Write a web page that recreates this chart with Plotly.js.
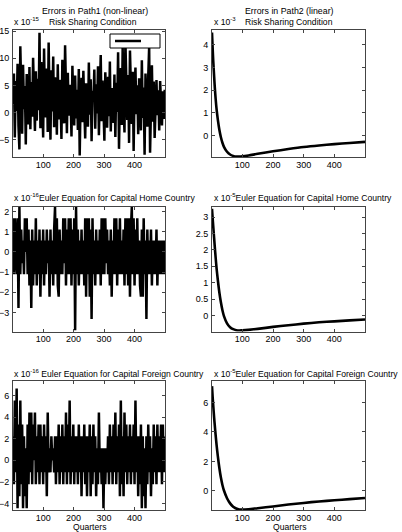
<!DOCTYPE html>
<html>
<head>
<meta charset="utf-8">
<script src="https://cdn.plot.ly/plotly-3.0.1.min.js"></script>
<style>
  html, body { margin: 0; padding: 0; background: #fff; }
  #chart { width: 402px; height: 532px; }
</style>
</head>
<body>
<div id="chart"></div>
<script>
// quarters for the noisy (non-linear) errors, sampled every 3rd quarter
var quarters = [];
for (var q = 1; q <= 499; q += 3) quarters.push(q);

// Path1 risk sharing errors, x 10^-15
var riskNonlin = [
  1.5, 7.2, -4.6, 5.8, 0.3, 9.0, -2.5, -6.8, 12.2, 2.1,
  -3.9, 8.8, 0.6, 4.9, -5.9, 7.1, 1.2, -2.2, 8.4, -3.1,
  5.6, -0.8, 10.1, 2.8, -3.4, 7.6, -1.5, 6.2, 0.4, 14.7,
  -2.9, 9.3, 3.7, -4.6, 11.8, 1.0, -0.9, 8.1, -3.6, 12.9,
  2.4, -5.0, 7.8, 0.2, 10.3, -2.7, 6.5, 3.2, -4.1, 8.9,
  -1.3, 6.0, 2.9, -4.9, 9.7, 0.8, -2.0, 12.4, 1.6, -3.8,
  7.3, -0.6, 5.1, 3.0, -4.4, 8.6, 1.9, -2.4, 6.8, -1.1,
  4.2, -3.2, 8.0, -7.9, 2.6, 6.4, -1.8, 7.7, 0.9, -4.8,
  5.4, 1.3, -2.6, 9.2, -0.4, 6.1, -5.3, 4.0, 2.2, 7.9,
  -3.0, 5.2, -0.2, 8.5, -4.2, 3.6, 10.6, -1.6, 5.9, 0.7,
  -5.2, 7.4, 2.0, -2.8, 6.6, -0.7, 9.4, -3.5, 4.5, 1.4,
  -1.9, 7.0, -4.5, 5.5, 0.1, 11.1, -6.7, 3.3, 8.2, -2.3,
  12.0, 1.1, -3.7, 13.1, 4.8, -1.4, 6.9, -5.6, 11.4, 0.5,
  -2.1, 7.5, -7.1, 3.9, 8.3, -0.3, 5.0, -4.0, 6.3, 2.5,
  -3.3, 9.6, -1.0, 4.6, -7.8, 7.2, 0.0, -2.6, 6.7, 12.1,
  -7.4, 3.1, 8.7, -1.7, 5.7, -4.7, 2.7, 6.0, -0.5, 4.1,
  -3.3, 5.8, 1.8, -2.4, 3.9, -1.2, 4.2
];

// Path1 Euler equation home errors, x 10^-16
var homeNonlin = [
  1.67, -1.11, 1.67, 0.56, -1.11, 1.67, -2.78, 2.22, -1.11, 1.11,
  -0.56, 0.56, -1.11, 1.67, 0, 1.67, -1.11, 1.11, -1.67, 0.56,
  -2.78, 1.11, -1.67, 0.56, -1.11, 1.67, -1.67, 0.56, -1.11, 1.11,
  -2.22, 0.56, -1.11, 1.11, -1.67, 0.56, -1.11, 1.11, -0.56, 0.56,
  -2.22, 1.11, -1.11, 0.56, -1.67, 1.11, 2.22, -1.11, 1.67, -1.67,
  -2.22, 1.11, -1.11, 0.56, -1.11, 1.67, -0.56, 1.67, -1.67, 1.11,
  -1.11, 1.67, -1.11, 1.67, -1.67, 1.11, -1.11, 1.67, -3.89, 2.22,
  -1.11, 1.11, -1.67, 0.56, -1.11, 1.11, -1.11, 0.56, -1.67, 1.67,
  -2.22, 1.67, -1.11, 1.67, -2.22, 1.11, -3.33, 1.67, -1.11, 0.56,
  -1.67, 1.11, -1.11, 0.56, -1.11, 1.11, -1.67, 1.67, -1.11, 1.67,
  -1.11, 1.67, -0.56, 1.11, -1.11, 0.56, -1.67, 1.11, -2.22, 0.56,
  -1.11, 1.67, -1.11, 1.67, -1.67, 1.11, -1.11, 1.67, -1.11, 0.56,
  -1.11, 1.11, -1.67, 1.67, -1.11, 1.67, -1.67, 1.67, -2.22, 1.11,
  2.22, -1.11, 1.67, -1.67, 1.11, -1.11, 1.67, -1.11, 0.56, -1.67,
  -2.22, 1.11, -2.22, 1.67, -1.11, 0.56, -3.33, 1.11, -1.11, 0.56,
  -1.11, 1.11, -1.67, 0.56, -1.11, 0.56, -1.11, 1.11, -1.67, 0.56,
  -1.11, 0.56, -1.11, 0.56, -1.11, 0.56, -1.11
];

// Path1 Euler equation foreign errors, x 10^-16
var foreignNonlin = [
  2.22, -2.22, 5.55, -1.11, 6.66, -4.44, 3.33, -3.33, 5.55, -2.22,
  3.33, -4.44, 2.22, -3.33, 1.11, -4.44, 3.33, -2.22, 4.44, -1.11,
  4.44, -2.22, 3.33, 0, 4.44, -2.22, 2.22, -1.11, 3.33, -2.22,
  3.33, -1.11, 2.22, -2.22, 3.33, -1.11, 2.22, -3.33, 4.44, -1.11,
  1.11, -1.11, 2.22, 0, 1.11, -1.11, 2.22, -2.22, 2.22, -1.11,
  3.33, -2.22, 2.22, -1.11, 3.33, -2.22, 2.22, -1.11, 4.44, -2.22,
  3.33, -1.11, 5.55, -2.22, 2.22, -1.11, 3.33, -2.22, 2.22, -1.11,
  2.22, -2.22, 3.33, -1.11, 2.22, -3.33, 2.22, -1.11, 3.33, -2.22,
  2.22, -3.33, 2.22, -1.11, 3.33, -3.33, 2.22, -2.22, 3.33, -1.11,
  2.22, -3.33, 1.11, -2.22, 4.44, -1.11, 1.11, -2.22, 1.11, -4.44,
  1.11, -2.22, 1.11, -1.11, 2.22, -2.22, 3.33, -1.11, 2.22, -2.22,
  3.33, -1.11, 4.44, -2.22, 2.22, -1.11, 3.33, -3.33, 5.55, -2.22,
  2.22, -3.33, 4.44, -1.11, 3.33, -2.22, 2.22, -1.11, 3.33, -2.22,
  2.22, -1.11, 3.33, -2.22, 5.55, -1.11, 2.22, -3.33, 2.22, -2.22,
  3.33, -4.44, 2.22, -3.33, 1.11, -4.44, 2.22, -2.22, 3.33, -1.11,
  2.22, -3.33, 1.11, -2.22, 3.33, -1.11, 2.22, -2.22, 3.33, -1.11,
  2.22, -1.11, 3.33, -2.22, 3.33, -1.11, 2.22
];

// Path2 (linear) errors, read at these quarters
var quartersLin = [1, 3, 5, 8, 10, 13, 16, 20, 25, 30, 35, 40, 50, 60, 70, 80, 90, 100, 120, 150, 200, 250, 300, 350, 400, 450, 500];
// x 10^-3
var riskLin = [4.55, 3.9, 3.3, 2.6, 2.15, 1.6, 1.15, 0.7, 0.25, -0.08, -0.32, -0.5, -0.72, -0.84, -0.9, -0.93, -0.93, -0.92, -0.88, -0.81, -0.7, -0.6, -0.51, -0.44, -0.38, -0.33, -0.28];
// x 10^-5
var homeLin = [3.25, 2.98, 2.72, 2.35, 2.1, 1.75, 1.43, 1.08, 0.7, 0.4, 0.16, -0.02, -0.24, -0.36, -0.42, -0.45, -0.46, -0.455, -0.44, -0.41, -0.35, -0.3, -0.25, -0.21, -0.18, -0.15, -0.125];
// x 10^-5
var foreignLin = [7.1, 6.4, 5.8, 4.95, 4.45, 3.75, 3.1, 2.35, 1.55, 0.9, 0.4, 0.02, -0.5, -0.85, -1.08, -1.2, -1.26, -1.27, -1.25, -1.18, -1.06, -0.93, -0.82, -0.72, -0.64, -0.56, -0.49];

var W = 402, H = 532;
function px(x) { return x / W; }
function py(y) { return 1 - y / H; }

var fam = 'Liberation Sans, Arial, Helvetica, sans-serif';
var tickFont = {family: fam, size: 9, color: '#000'};
var subFont = {family: fam, size: 8.6, color: '#000'};
var topFont = {family: fam, size: 8.8, color: '#000'};

function noisy(y, xa, ya) {
  return {x: quarters, y: y, xaxis: xa, yaxis: ya, type: 'scatter', mode: 'lines',
          line: {color: '#000', width: 2.5}, showlegend: false, hoverinfo: 'skip'};
}
function smooth(y, xa, ya) {
  return {x: quartersLin, y: y, xaxis: xa, yaxis: ya, type: 'scatter', mode: 'lines',
          line: {color: '#000', width: 2.6, shape: 'spline', smoothing: 0.8}, showlegend: false, hoverinfo: 'skip'};
}

var data = [
  noisy(riskNonlin, 'x', 'y'),
  smooth(riskLin, 'x2', 'y2'),
  noisy(homeNonlin, 'x3', 'y3'),
  smooth(homeLin, 'x4', 'y4'),
  noisy(foreignNonlin, 'x5', 'y5'),
  smooth(foreignLin, 'x6', 'y6')
];

function xax(dom, anchor) {
  return {domain: dom, anchor: anchor, range: [1, 500], tickvals: [100, 200, 300, 400],
          ticks: 'inside', ticklen: 3, tickcolor: '#444', mirror: 'ticks', showline: true,
          linecolor: '#444', linewidth: 1, showgrid: false, zeroline: false,
          tickfont: tickFont, ticklabelstandoff: -1};
}
function yax(dom, anchor, range, tv) {
  return {domain: dom, anchor: anchor, range: range, tickvals: tv,
          ticks: 'inside', ticklen: 3, tickcolor: '#444', mirror: 'ticks', showline: true,
          linecolor: '#444', linewidth: 1, showgrid: false, zeroline: false,
          tickfont: tickFont, ticklabelstandoff: 1};
}

var colL = [px(13), px(165)], colR = [px(212), px(365)];
var row1 = [py(157), py(30)], row2 = [py(331.5), py(206.5)], row3 = [py(510), py(381)];

function ann(text, x, y, anchor, f) {
  return {text: text, x: px(x), y: py(y), xref: 'paper', yref: 'paper', showarrow: false,
          xanchor: anchor || 'center', yanchor: 'middle', font: f || subFont};
}

var layout = {
  width: W, height: H, margin: {l: 0, r: 0, t: 0, b: 0},
  paper_bgcolor: '#fff', plot_bgcolor: '#fff', font: tickFont,
  xaxis: xax(colL, 'y'), yaxis: yax(row1, 'x', [-8.2, 15.2], [-5, 0, 5, 10, 15]),
  xaxis2: xax(colR, 'y2'), yaxis2: yax(row1, 'x2', [-0.95, 4.66], [0, 1, 2, 3, 4]),
  xaxis3: xax(colL, 'y3'), yaxis3: yax(row2, 'x3', [-3.95, 2.25], [-4, -3, -2, -1, 0, 1, 2]),
  xaxis4: xax(colR, 'y4'), yaxis4: yax(row2, 'x4', [-0.49, 3.32], [-0.5, 0, 0.5, 1, 1.5, 2, 2.5, 3]),
  xaxis5: xax(colL, 'y5'), yaxis5: yax(row3, 'x5', [-4.6, 7.35], [-4, -2, 0, 2, 4, 6]),
  xaxis6: xax(colR, 'y6'), yaxis6: yax(row3, 'x6', [-1.3, 7.45], [0, 2, 4, 6]),
  annotations: [
    ann('Errors in Path1 (non-linear)', 95, 11, 'center', topFont),
    ann('Errors in Path2 (linear)', 289, 11, 'center', topFont),
    ann('x 10<sup>-15</sup>', 12, 21, 'left'),
    ann('Risk Sharing Condition', 93, 22),
    ann('x 10<sup>-3</sup>', 212, 21, 'left'),
    ann('Risk Sharing Condition', 289, 22),
    ann('x 10<sup>-16</sup>Euler Equation for Capital Home Country', 12, 198, 'left'),
    ann('x 10<sup>-5</sup>Euler Equation for Capital Home Country', 212, 198, 'left'),
    ann('x 10<sup>-16</sup> Euler Equation for Capital Foreign Country', 12, 373, 'left'),
    ann('x 10<sup>-5</sup>Euler Equation for Capital Foreign Country', 212, 373, 'left'),
    ann('Quarters', 89, 527, 'center', subFont),
    ann('Quarters', 289, 527, 'center', subFont)
  ],
  shapes: [
    // empty legend box in the first panel
    {type: 'rect', xref: 'paper', yref: 'paper', x0: px(110), x1: px(160), y0: py(48), y1: py(34),
     line: {color: '#000', width: 1}, fillcolor: '#fff', layer: 'above'},
    {type: 'line', xref: 'paper', yref: 'paper', x0: px(115), x1: px(141), y0: py(41), y1: py(41),
     line: {color: '#000', width: 2.5}, layer: 'above'}
  ]
};

Plotly.newPlot('chart', data, layout, {staticPlot: true, displayModeBar: false});
</script>
</body>
</html>
